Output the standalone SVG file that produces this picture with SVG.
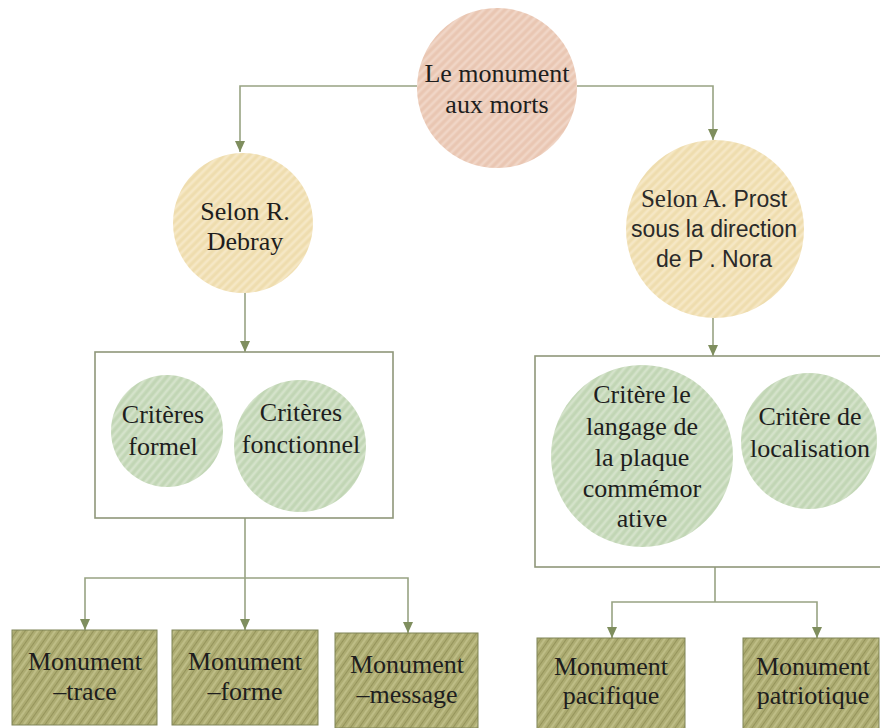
<svg xmlns="http://www.w3.org/2000/svg" width="880" height="728" viewBox="0 0 880 728">
<style>
.t{font-family:"Liberation Serif","Times New Roman",serif;font-size:26px;fill:#1e1e1e;text-anchor:middle}
.s{font-family:"Liberation Sans",Arial,sans-serif;font-size:23px;fill:#2a2a2a;text-anchor:middle}
.c{fill:none;stroke:#98a383;stroke-width:1.6}
.frame{fill:#fff;stroke:#8f977a;stroke-width:1.6}
.box{stroke:#7f8456;stroke-width:1}
</style>
<defs>
<pattern id="pPeach" width="6" height="6" patternUnits="userSpaceOnUse" patternTransform="rotate(-45)">
<rect width="6" height="6" fill="#ecccb9"/><line x1="0" y1="1" x2="6" y2="1" stroke="#f4dccf" stroke-width="1.2"/><line x1="0" y1="4" x2="6" y2="4" stroke="#e3bea8" stroke-width="0.8"/>
</pattern>
<pattern id="pYellow" width="6" height="6" patternUnits="userSpaceOnUse" patternTransform="rotate(-45)">
<rect width="6" height="6" fill="#f2e1b6"/><line x1="0" y1="1" x2="6" y2="1" stroke="#f8ecd0" stroke-width="1.2"/><line x1="0" y1="4" x2="6" y2="4" stroke="#e9d5a3" stroke-width="0.8"/>
</pattern>
<pattern id="pGreen" width="6" height="6" patternUnits="userSpaceOnUse" patternTransform="rotate(-50)">
<rect width="6" height="6" fill="#c8dbbc"/><line x1="0" y1="1" x2="6" y2="1" stroke="#dce8d3" stroke-width="1.2"/><line x1="0" y1="4" x2="6" y2="4" stroke="#b8cea9" stroke-width="0.8"/>
</pattern>
<pattern id="pOlive" width="7" height="7" patternUnits="userSpaceOnUse" patternTransform="rotate(-55)">
<rect width="7" height="7" fill="#adac72"/><line x1="0" y1="1" x2="7" y2="1" stroke="#c6c48e" stroke-width="1.4"/><line x1="0" y1="4.5" x2="7" y2="4.5" stroke="#929158" stroke-width="0.9"/>
</pattern>
<marker id="arr" markerWidth="12" markerHeight="10" refX="11" refY="5" orient="auto" markerUnits="userSpaceOnUse">
<path d="M0,0 L11,5 L0,10 z" fill="#7f8e5e"/>
</marker>
</defs>

<g id="connectors">
<path class="c" d="M417,86 H240 V152" marker-end="url(#arr)"/>
<path class="c" d="M577,86 H713 V140" marker-end="url(#arr)"/>
<path class="c" d="M245,293 V352" marker-end="url(#arr)"/>
<path class="c" d="M713,318 V356" marker-end="url(#arr)"/>
<path class="c" d="M245,518 V578"/>
<path class="c" d="M245,578 H85 V630" marker-end="url(#arr)"/>
<path class="c" d="M245,578 V630" marker-end="url(#arr)"/>
<path class="c" d="M245,578 H408 V633" marker-end="url(#arr)"/>
<path class="c" d="M715,567 V602"/>
<path class="c" d="M715,602 H612 V638" marker-end="url(#arr)"/>
<path class="c" d="M715,602 H817 V638" marker-end="url(#arr)"/>
</g>

<g id="root">
<circle cx="497" cy="88" r="80" fill="url(#pPeach)"/>
<text class="t" x="497" y="82" font-size="27">Le monument</text>
<text class="t" x="497" y="113" font-size="27">aux morts</text>
</g>

<g id="debray">
<circle cx="243" cy="223" r="70" fill="url(#pYellow)"/>
<text class="t" x="245" y="220">Selon R.</text>
<text class="t" x="245" y="250">Debray</text>
</g>

<g id="prost">
<circle cx="715" cy="229" r="89" fill="url(#pYellow)"/>
<text class="s" x="714" y="207"><tspan font-family="Liberation Serif, serif" font-size="25px">Selon A.</tspan> Prost</text>
<text class="s" x="714" y="237">sous la direction</text>
<text class="s" x="714" y="267">de P . Nora</text>
</g>

<g id="groupDebray">
<rect class="frame" x="95" y="352" width="298" height="166"/>
<g id="formel">
<circle cx="167" cy="431" r="56" fill="url(#pGreen)"/>
<text class="t" x="163" y="423" font-size="25">Critères</text>
<text class="t" x="163" y="455" font-size="25">formel</text>
</g>
<g id="fonctionnel">
<circle cx="300" cy="446" r="66" fill="url(#pGreen)"/>
<text class="t" x="301" y="421" font-size="25">Critères</text>
<text class="t" x="301" y="453" font-size="25">fonctionnel</text>
</g>
</g>

<g id="groupProst">
<rect class="frame" x="535" y="356" width="360" height="211"/>
<g id="langage">
<circle cx="642" cy="456" r="91" fill="url(#pGreen)"/>
<text class="t" x="642" y="403" font-size="25">Critère le</text>
<text class="t" x="642" y="435" font-size="25">langage de</text>
<text class="t" x="642" y="466" font-size="25">la plaque</text>
<text class="t" x="642" y="497" font-size="25">commémor</text>
<text class="t" x="642" y="527" font-size="25">ative</text>
</g>
<g id="localisation">
<circle cx="809" cy="441" r="68" fill="url(#pGreen)"/>
<text class="t" x="810" y="425" font-size="25">Critère de</text>
<text class="t" x="810" y="457" font-size="25">localisation</text>
</g>
</g>

<g id="trace">
<rect class="box" x="12" y="630" width="145" height="95" fill="url(#pOlive)"/>
<text class="t" x="85" y="670">Monument</text>
<text class="t" x="85" y="700">–trace</text>
</g>
<g id="forme">
<rect class="box" x="172" y="630" width="146" height="95" fill="url(#pOlive)"/>
<text class="t" x="245" y="670">Monument</text>
<text class="t" x="245" y="700">–forme</text>
</g>
<g id="message">
<rect class="box" x="335" y="633" width="143" height="95" fill="url(#pOlive)"/>
<text class="t" x="407" y="673">Monument</text>
<text class="t" x="407" y="703">–message</text>
</g>
<g id="pacifique">
<rect class="box" x="537" y="638" width="148" height="92" fill="url(#pOlive)"/>
<text class="t" x="611" y="675">Monument</text>
<text class="t" x="611" y="704">pacifique</text>
</g>
<g id="patriotique">
<rect class="box" x="743" y="638" width="136" height="92" fill="url(#pOlive)"/>
<text class="t" x="813" y="675">Monument</text>
<text class="t" x="813" y="704">patriotique</text>
</g>
</svg>
